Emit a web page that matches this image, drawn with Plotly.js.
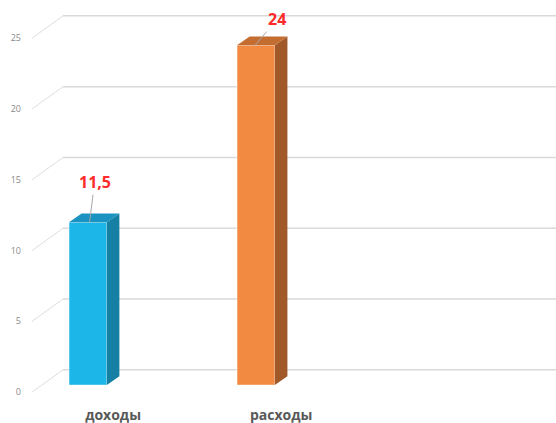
<!DOCTYPE html>
<html>
<head>
<meta charset="utf-8">
<script src="https://cdn.plot.ly/plotly-3.0.1.min.js"></script>
<style>html,body{margin:0;padding:0;background:#fff}#chart{width:556px;height:423px}</style>
</head>
<body>
<div id="chart"></div>
<script>
// Data
const categories = ['доходы', 'расходы'];
const values = [11.5, 24];
const yTickValues = [0, 5, 10, 15, 20, 25];

// Styles
const frontColors = ['#1DB6E9', '#F28A41'];
const topColors = ['#1B93C2', '#C46D31'];
const sideColors = ['#167FA4', '#A2592A'];

const xs = categories.map((c, i) => i);
const barWidth = 0.225;      // in x units
const depthX = 0.075;        // 3D depth, x units
const depthY = 0.62;         // 3D depth, y units
const wallDX = -0.148;       // back wall left x
const wallOffY = 1.08;       // back wall vertical offset
const labelOffY = -0.5;      // tick label plane offset
const labelX = -0.333;

const shapes = [];
// back wall gridlines and slanted connectors
yTickValues.forEach(v => {
  shapes.push({type: 'line', xref: 'x', yref: 'y', x0: wallDX, x1: 3, y0: v + wallOffY, y1: v + wallOffY,
    line: {color: '#d9d9d9', width: 1.5}, layer: 'below'});
  shapes.push({type: 'line', xref: 'x', yref: 'y', x0: labelX, x1: wallDX, y0: v + labelOffY, y1: v + wallOffY,
    line: {color: '#dedede', width: 1}, layer: 'below'});
});
// 3D faces of bars
xs.forEach((x, i) => {
  const v = values[i];
  const l = x - barWidth / 2, r = x + barWidth / 2;
  shapes.push({type: 'path', xref: 'x', yref: 'y', layer: 'above',
    path: `M${r},0 L${r + depthX},${depthY} L${r + depthX},${v + depthY} L${r},${v} Z`,
    fillcolor: sideColors[i], line: {width: 0}});
  shapes.push({type: 'path', xref: 'x', yref: 'y', layer: 'above',
    path: `M${l},${v} L${l + depthX},${v + depthY} L${r + depthX},${v + depthY} L${r},${v} Z`,
    fillcolor: topColors[i], line: {width: 0}});
});

const labelOffsets = [{ax: 5, ay: -40}, {ax: 22, ay: -26}];
const annotations = xs.map((x, i) => ({
  x: x + (i === 0 ? 0.01 : -0.005), y: values[i], xref: 'x', yref: 'y',
  text: String(values[i]).replace('.', ','),
  showarrow: true, arrowhead: 0, arrowwidth: 1, arrowcolor: '#a6a6a6',
  ax: labelOffsets[i].ax, ay: labelOffsets[i].ay,
  font: {family: 'Open Sans, sans-serif', size: 16, color: '#FF2A2A', weight: 'bold'}
}));

const trace = {
  type: 'bar', x: xs, y: values, width: barWidth,
  marker: {color: frontColors, line: {color: 'rgba(255,255,255,0.5)', width: 1}},
  hoverinfo: 'skip'
};

const layout = {
  width: 556, height: 423,
  margin: {l: 30, r: 0, t: 0, b: 28},
  paper_bgcolor: '#fff', plot_bgcolor: '#fff',
  showlegend: false,
  xaxis: {
    range: [-0.3446, 2.786], showgrid: false, zeroline: false, showline: false,
    tickmode: 'array', tickvals: xs.map(x => x + 0.15), ticktext: categories,
    ticks: '', ticklabelstandoff: 10,
    tickfont: {family: 'Open Sans, sans-serif', size: 14, color: '#595959', weight: 'bold'}
  },
  yaxis: {
    range: [-0.7, 27.2], showgrid: false, zeroline: false, showline: false,
    tickmode: 'array', tickvals: yTickValues, ticks: '', ticklabelshift: 7,
    ticklabelstandoff: 8,
    tickfont: {family: 'Open Sans, sans-serif', size: 9, color: '#8a8a8a'}
  },
  shapes: shapes,
  annotations: annotations,
  bargap: 0
};

Plotly.newPlot('chart', [trace], layout, {displayModeBar: false, staticPlot: true});
</script>
</body>
</html>
